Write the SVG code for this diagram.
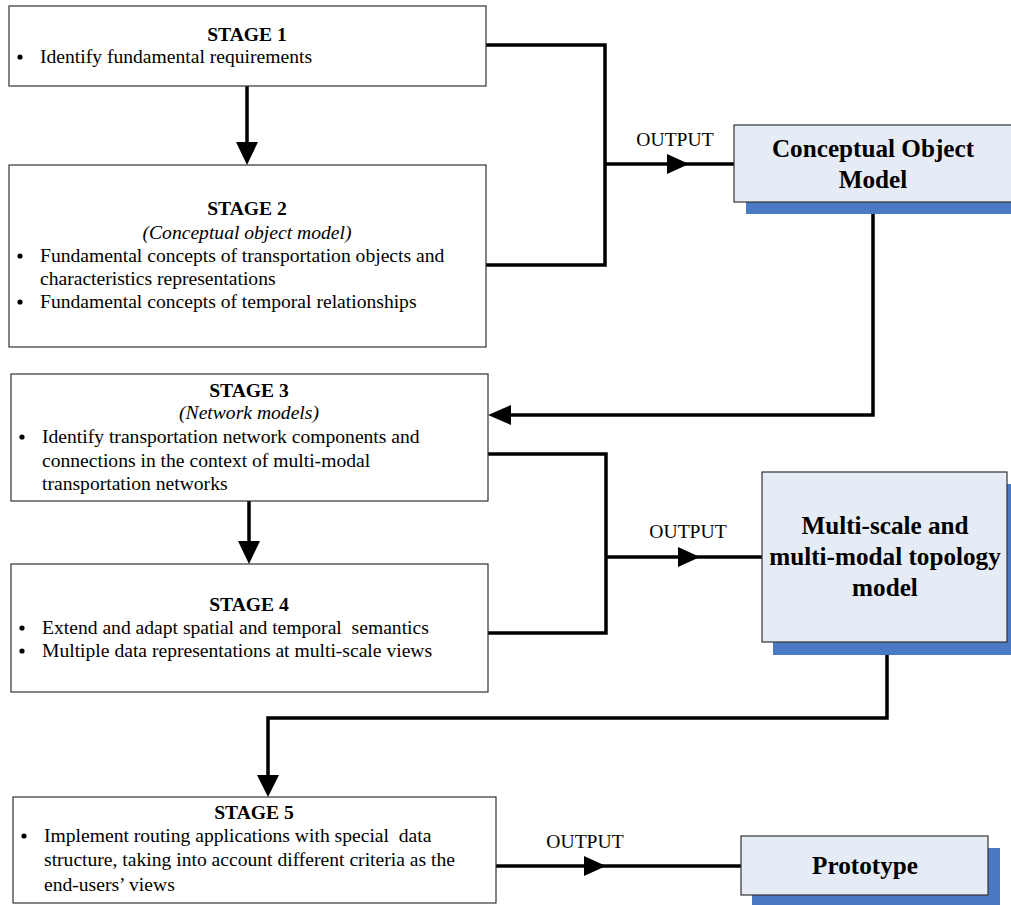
<svg xmlns="http://www.w3.org/2000/svg" width="1011" height="905" viewBox="0 0 1011 905">
<style>
.box{fill:#fff;stroke:#333;stroke-width:1.2}
.out{fill:#E6ECF6;stroke:#333;stroke-width:1.2}
.sh{fill:#4A7AC4}
.t{font-family:"Liberation Serif","Times New Roman",serif;font-size:19.6px;fill:#000}
.h{font-family:"Liberation Serif","Times New Roman",serif;font-size:19.6px;font-weight:bold;fill:#000}
.i{font-family:"Liberation Serif","Times New Roman",serif;font-size:19.6px;font-style:italic;fill:#000}
.big{font-family:"Liberation Serif","Times New Roman",serif;font-size:25.2px;font-weight:bold;fill:#000}
.c{fill:none;stroke:#000;stroke-width:3.5}
</style>
<g id="connectors">
<polyline class="c" points="486,45 605,45 605,265 486,265"/>
<line class="c" x1="605" y1="164" x2="735" y2="164"/>
<polygon points="667,154 689,164 667,174" fill="#000"/>
<line class="c" x1="247" y1="86" x2="247" y2="145"/>
<polygon points="236,142 258,142 247,165" fill="#000"/>
<polyline class="c" points="873,213 873,415 510,415"/>
<polygon points="511,405 511,425 488,415" fill="#000"/>
<polyline class="c" points="488,454 606,454 606,633 488,633"/>
<line class="c" x1="606" y1="557" x2="762" y2="557"/>
<polygon points="678,547 700,557 678,567" fill="#000"/>
<line class="c" x1="249" y1="501" x2="249" y2="542"/>
<polygon points="238,541 260,541 249,564" fill="#000"/>
<polyline class="c" points="887,655 887,718 268,718 268,778"/>
<polygon points="257,775 279,775 268,797" fill="#000"/>
<line class="c" x1="496" y1="866" x2="741" y2="866"/>
<polygon points="584,856 606,866 584,876" fill="#000"/>
<text class="t" x="675" y="146" text-anchor="middle">OUTPUT</text>
<text class="t" x="688" y="538" text-anchor="middle">OUTPUT</text>
<text class="t" x="585" y="848" text-anchor="middle">OUTPUT</text>
</g>
<g id="stage1">
<rect class="box" x="9" y="6" width="477" height="80"/>
<text class="h" x="247" y="41" text-anchor="middle">STAGE 1</text>
<circle cx="20" cy="57" r="2.6"/>
<text class="t" x="40" y="63">Identify fundamental requirements</text>
</g>
<g id="stage2">
<rect class="box" x="9" y="165" width="477" height="182"/>
<text class="h" x="247" y="215" text-anchor="middle">STAGE 2</text>
<text class="i" x="247" y="239" text-anchor="middle">(Conceptual object model)</text>
<circle cx="20" cy="256" r="2.6"/>
<text class="t" x="40" y="262">Fundamental concepts of transportation objects and</text>
<text class="t" x="40" y="285">characteristics representations</text>
<circle cx="20" cy="302" r="2.6"/>
<text class="t" x="40" y="308">Fundamental concepts of temporal relationships</text>
</g>
<g id="conceptual">
<rect class="sh" x="746" y="202" width="266" height="12"/>
<rect class="out" x="734" y="125" width="280" height="77"/>
<text class="big" x="873" y="157" text-anchor="middle">Conceptual Object</text>
<text class="big" x="873" y="188" text-anchor="middle">Model</text>
</g>
<g id="stage3">
<rect class="box" x="11" y="374" width="477" height="127"/>
<text class="h" x="249" y="397" text-anchor="middle">STAGE 3</text>
<text class="i" x="249" y="419" text-anchor="middle">(Network models)</text>
<circle cx="22" cy="437" r="2.6"/>
<text class="t" x="42" y="443">Identify transportation network components and</text>
<text class="t" x="42" y="467">connections in the context of multi-modal</text>
<text class="t" x="42" y="490">transportation networks</text>
</g>
<g id="stage4">
<rect class="box" x="11" y="564" width="477" height="128"/>
<text class="h" x="249" y="611" text-anchor="middle">STAGE 4</text>
<circle cx="22" cy="628" r="2.6"/>
<text class="t" x="42" y="634" xml:space="preserve">Extend and adapt spatial and temporal  semantics</text>
<circle cx="22" cy="651" r="2.6"/>
<text class="t" x="42" y="657">Multiple data representations at multi-scale views</text>
</g>
<g id="topology">
<rect class="sh" x="773" y="484" width="240" height="171"/>
<rect class="out" x="762" y="472" width="245" height="170"/>
<text class="big" x="885" y="534" text-anchor="middle">Multi-scale and</text>
<text class="big" x="885" y="565" text-anchor="middle">multi-modal topology</text>
<text class="big" x="885" y="596" text-anchor="middle">model</text>
</g>
<g id="stage5">
<rect class="box" x="13" y="797" width="483" height="106"/>
<text class="h" x="254" y="819" text-anchor="middle">STAGE 5</text>
<circle cx="24" cy="836" r="2.6"/>
<text class="t" x="44" y="842" xml:space="preserve">Implement routing applications with special  data</text>
<text class="t" x="44" y="866">structure, taking into account different criteria as the</text>
<text class="t" x="44" y="891">end-users’ views</text>
</g>
<g id="prototype">
<rect class="sh" x="752" y="848" width="248" height="57"/>
<rect class="out" x="741" y="836" width="247" height="59"/>
<text class="big" x="865" y="874" text-anchor="middle">Prototype</text>
</g>
</svg>
